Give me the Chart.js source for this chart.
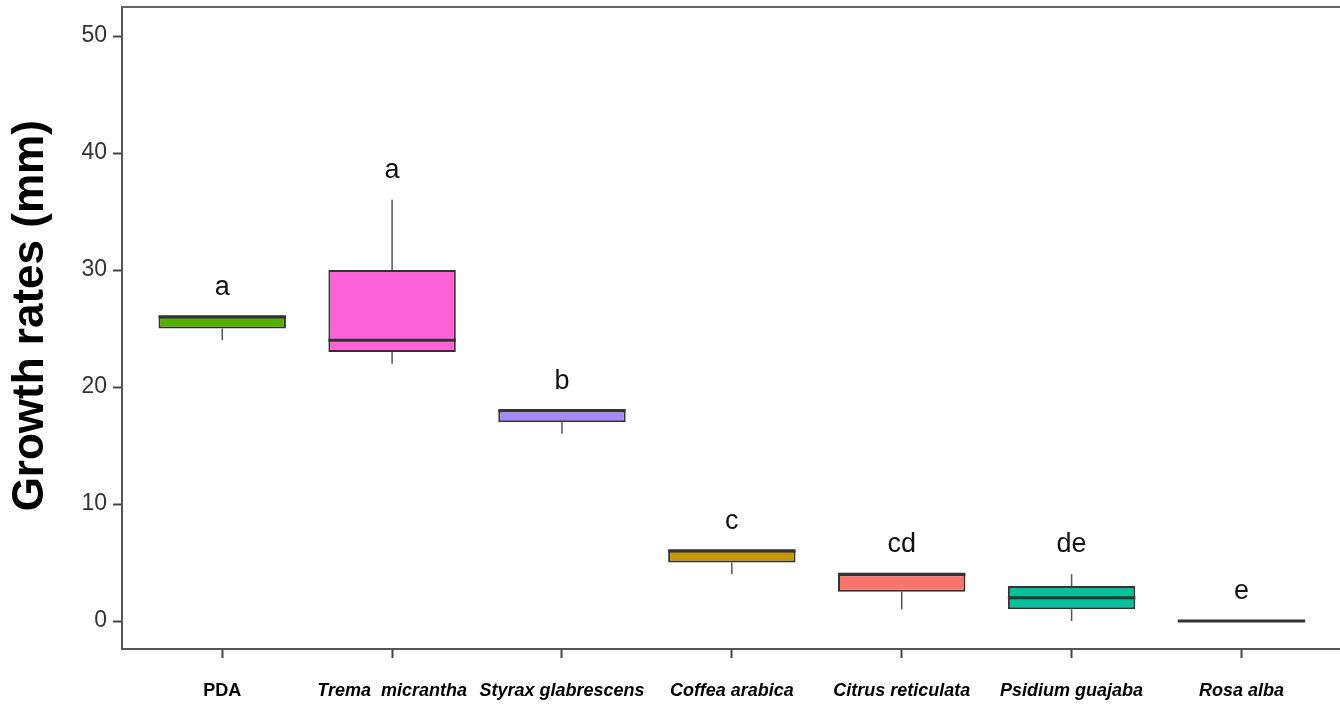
<!DOCTYPE html>
<html>
<head>
<meta charset="utf-8">
<script src="https://cdn.jsdelivr.net/npm/chart.js@4/dist/chart.umd.min.js"></script>
<style>
  html, body { margin: 0; padding: 0; background: #fff; }
  #wrap { width: 1340px; height: 706px; }
</style>
</head>
<body>
<div id="wrap"><canvas id="chart"></canvas></div>
<script>
// box plot values (mm)
const categories = ['PDA', 'Trema  micrantha', 'Styrax glabrescens', 'Coffea arabica', 'Citrus reticulata', 'Psidium guajaba', 'Rosa alba']
const minVals    = [24, 22, 16, 4, 1,   0, 0]
const q1Vals     = [25, 23, 17, 5, 2.5, 1, 0]
const medianVals = [26, 24, 18, 6, 4,   2, 0]
const q3Vals     = [26, 30, 18, 6, 4,   3, 0]
const maxVals    = [26, 36, 18, 6, 4,   4, 0]
const letters    = ['a', 'a', 'b', 'c', 'cd', 'de', 'e']
const boxColors  = ['#52b000', '#ff61d8', '#a58afe', '#c49a00', '#f8766d', '#00c19a', '#999999']
const yTicks = [0, 10, 20, 30, 40, 50]

const FONT = 'Liberation Sans, Arial, Helvetica, sans-serif'

// whiskers under the boxes, medians + letters on top
const boxPlot = {
    id: 'boxPlot',
    beforeDatasetsDraw(chart) {
        const ctx = chart.ctx
        const x = chart.scales.x, y = chart.scales.y
        ctx.save()
        ctx.strokeStyle = '#555'
        ctx.lineWidth = 1.5
        categories.forEach(function (c, i) {
            const px = x.getPixelForValue(i + 1)
            ctx.beginPath()
            ctx.moveTo(px, y.getPixelForValue(maxVals[i]))
            ctx.lineTo(px, y.getPixelForValue(q3Vals[i]))
            ctx.moveTo(px, y.getPixelForValue(q1Vals[i]))
            ctx.lineTo(px, y.getPixelForValue(minVals[i]))
            ctx.stroke()
        })
        ctx.restore()
    },
    afterDatasetsDraw(chart) {
        const ctx = chart.ctx
        const y = chart.scales.y
        const meta = chart.getDatasetMeta(0)
        ctx.save()
        ctx.strokeStyle = '#333'
        ctx.lineWidth = 3
        meta.data.forEach(function (bar, i) {
            const py = y.getPixelForValue(medianVals[i])
            ctx.beginPath()
            ctx.moveTo(bar.x - bar.width / 2, py)
            ctx.lineTo(bar.x + bar.width / 2, py)
            ctx.stroke()
        })
        ctx.fillStyle = '#111'
        ctx.font = '27px ' + FONT
        ctx.textAlign = 'center'
        ctx.textBaseline = 'middle'
        meta.data.forEach(function (bar, i) {
            ctx.fillText(letters[i], bar.x, y.getPixelForValue(maxVals[i] + 2.5))
        })
        // top frame line
        const a = chart.chartArea
        ctx.strokeStyle = '#666'
        ctx.lineWidth = 2
        ctx.beginPath()
        ctx.moveTo(a.left, a.top)
        ctx.lineTo(a.right, a.top)
        ctx.stroke()
        ctx.restore()
    }
}

new Chart(document.getElementById('chart'), {
    type: 'bar',
    data: {
        datasets: [{
            data: categories.map((c, i) => ({ x: i + 1, y: [q1Vals[i], q3Vals[i]] })),
            backgroundColor: boxColors,
            borderColor: '#333',
            borderWidth: 2,
            borderSkipped: false,
            barPercentage: 0.75,
            categoryPercentage: 1
        }]
    },
    options: {
        responsive: true,
        maintainAspectRatio: false,
        animation: false,
        layout: { padding: { top: 7, right: 0, left: 0, bottom: 0 } },
        plugins: { legend: { display: false }, tooltip: { enabled: false } },
        scales: {
            x: {
                type: 'linear',
                min: 0.41,
                max: 7.58,
                offset: false,
                afterBuildTicks: s => { s.ticks = categories.map((c, i) => ({ value: i + 1 })) },
                afterFit: s => { s.height = 57; s.paddingLeft = 0; s.paddingRight = 0 },
                grid: { offset: false, drawOnChartArea: false, drawTicks: true, tickLength: 9, tickWidth: 2, tickColor: '#444' },
                border: { color: '#555', width: 2 },
                ticks: {
                    padding: 22,
                    color: '#000',
                    maxRotation: 0,
                    autoSkip: false,
                    callback: v => categories[v - 1],
                    font: c => ({ family: FONT, size: 18, weight: 'bold', style: c.index === 0 ? 'normal' : 'italic' })
                }
            },
            y: {
                min: -2.39,
                max: 52.48,
                afterBuildTicks: s => { s.ticks = yTicks.map(v => ({ value: v })) },
                afterFit: s => { s.width = 122; s.paddingTop = 0; s.paddingBottom = 0 },
                grid: { drawOnChartArea: false, drawTicks: true, tickLength: 9, tickWidth: 2, tickColor: '#444' },
                border: { color: '#555', width: 2 },
                ticks: { padding: 6, color: '#333', font: { family: FONT, size: 23 } },
                title: {
                    display: true,
                    text: '  Growth rates (mm)',
                    color: '#000',
                    font: { family: FONT, size: 44, weight: 'bold' },
                    padding: { top: 4, bottom: 0 }
                }
            }
        }
    },
    plugins: [boxPlot]
});
</script>
</body>
</html>
